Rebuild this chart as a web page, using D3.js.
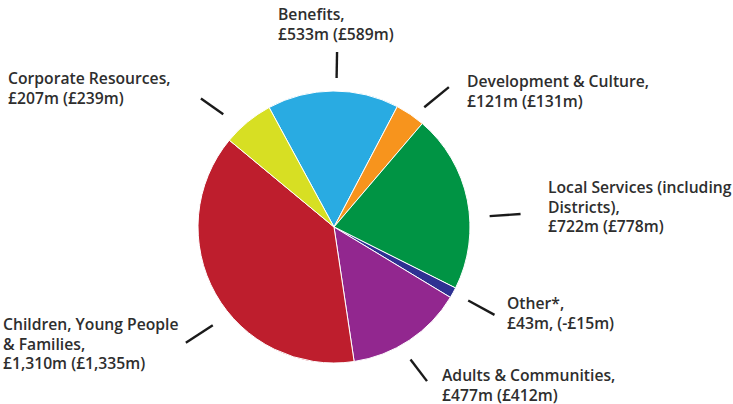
<!DOCTYPE html>
<html><head><meta charset="utf-8">
<script src="https://cdn.jsdelivr.net/npm/d3@7"></script>
<style>
html,body{margin:0;padding:0;background:#fff;}
svg{display:block;}
text{font-family:"Open Sans", Lato, sans-serif;font-weight:600;fill:#2e2e2e;font-size:15.7px;}
</style></head>
<body><svg id="c" width="733" height="404"></svg>
<script>
// Data
const categories = ["Benefits","Development & Culture","Local Services (including Districts)","Other*","Adults & Communities","Children, Young People & Families","Corporate Resources"];
const values = [533,121,722,43,477,1310,207];
const labelLines = [
  ["Benefits,","£533m (£589m)"],
  ["Development & Culture,","£121m (£131m)"],
  ["Local Services (including","Districts),","£722m (£778m)"],
  ["Other*,","£43m, (-£15m)"],
  ["Adults & Communities,","£477m (£412m)"],
  ["Children, Young People","& Families,","£1,310m (£1,335m)"],
  ["Corporate Resources,","£207m (£239m)"]
];
const colors = ["#29abe2","#f7941d","#009444","#2e3192","#92278f","#be1e2d","#d7df23"];

// Layout (label placement)
const cx=334, cy=227, R=136;
const labelLayout = [
  {x:278,y:20, a:1,   r0:149,r1:175},
  {x:467,y:87, a:37,  r0:150,r1:181, a1:39.4},
  {x:548,y:193,a:86,  r0:156,r1:187},
  {x:507,y:309,a:118.7,r0:153,r1:183},
  {x:442,y:381,a:150, r0:153,r1:180, a1:148.9},
  {x:3,  y:330,a:231, r0:156,r1:188, a1:232},
  {x:8,  y:84, a:315.5,r0:158,r1:185, a1:314}
];

const svg=d3.select("#c");
const g=svg.append("g").attr("transform",`translate(${cx},${cy})`);
const rad=d=>d*Math.PI/180;
const pie=d3.pie().sort(null).value(d=>d).startAngle(rad(-28.5)).endAngle(rad(331.5));
const arc=d3.arc().innerRadius(0).outerRadius(R);
g.selectAll("path.s").data(pie(values)).join("path")
  .attr("class","s").attr("d",arc).attr("fill",(d,i)=>colors[i])
  .attr("stroke","#fff").attr("stroke-width",1).attr("stroke-linejoin","round");

// ticks
g.selectAll("line.t").data(labelLayout).join("line").attr("class","t")
  .each(function(d){
    const p0=d3.pointRadial(rad(d.a),d.r0), p1=d3.pointRadial(rad(d.a1!==undefined?d.a1:d.a),d.r1);
    d3.select(this).attr("x1",p0[0]).attr("y1",p0[1]).attr("x2",p1[0]).attr("y2",p1[1]);
  })
  .attr("stroke","#1a1a1a").attr("stroke-width",2.4);

// labels
const lh=19.5;
svg.selectAll("text.l").data(labelLines).join("text").attr("class","l")
  .attr("x",(d,i)=>labelLayout[i].x).attr("y",(d,i)=>labelLayout[i].y)
  .each(function(lines,i){
    d3.select(this).selectAll("tspan").data(lines).join("tspan")
      .attr("x",labelLayout[i].x).attr("dy",(l,j)=>j?lh:0).text(l=>l);
  });
</script></body></html>
